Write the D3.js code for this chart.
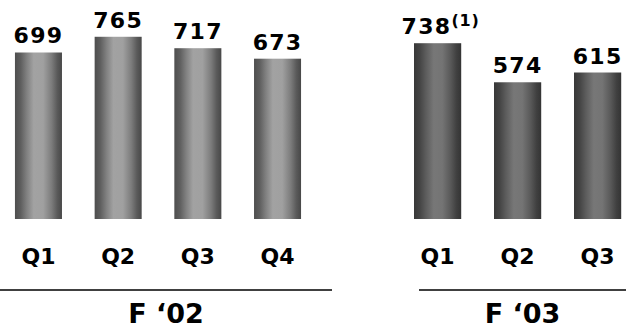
<!DOCTYPE html>
<html>
<head>
<meta charset="utf-8">
<script src="https://cdn.jsdelivr.net/npm/d3@7"></script>
<style>
  html, body { margin: 0; padding: 0; background: #fff; }
  svg { display: block; }
  text { font-family: "DejaVu Sans", Verdana, sans-serif; font-weight: bold; fill: #000; }
</style>
</head>
<body>
<svg id="chart" width="626" height="328"></svg>
<script>
// Quarterly values by fiscal year
const yearLabels = ["F \u201802", "F \u201803"];
const quartersF02 = ["Q1", "Q2", "Q3", "Q4"];
const valuesF02 = [699, 765, 717, 673];
const quartersF03 = ["Q1", "Q2", "Q3"];
const valuesF03 = [738, 574, 615];
const notesF03 = ["(1)", "", ""];

const svg = d3.select("#chart");
const baseY = 219;

// Shared value scale so both panels are comparable
const y = d3.scaleLinear().domain([0, 920]).range([baseY, baseY - 920 * 0.2382]);

const defs = svg.append("defs");
function cylinder(id, stops) {
  const g = defs.append("linearGradient").attr("id", id)
    .attr("x1", "0%").attr("x2", "100%").attr("y1", "0%").attr("y2", "0%");
  stops.forEach(([o, c]) => g.append("stop").attr("offset", o).attr("stop-color", c));
}
cylinder("gradF02", [[0, "#4e4e4e"], [0.12, "#5e5e5e"], [0.25, "#808080"], [0.4, "#a2a2a2"], [0.6, "#a0a0a0"], [0.78, "#7c7c7c"], [0.9, "#5a5a5a"], [1, "#484848"]]);
cylinder("gradF03", [[0, "#383838"], [0.12, "#444444"], [0.25, "#5c5c5c"], [0.42, "#777777"], [0.6, "#747474"], [0.78, "#585858"], [0.9, "#404040"], [1, "#343434"]]);

const panels = [
  { label: yearLabels[0], cats: quartersF02, vals: valuesF02, notes: ["", "", "", ""], rule: [0, 332], bands: [-24.9, 340.9], grad: "gradF02" },
  { label: yearLabels[1], cats: quartersF03, vals: valuesF03, notes: notesF03, rule: [419, 626], bands: [374, 661.2], grad: "gradF03" }
];

panels.forEach(p => {
  const x = d3.scaleBand().domain(p.cats).range(p.bands).paddingInner(0.41).paddingOuter(0.5);
  const g = svg.append("g");
  const data = p.cats.map((c, i) => ({ c, v: p.vals[i], note: p.notes[i] }));

  g.selectAll("rect").data(data).join("rect")
    .attr("x", d => x(d.c))
    .attr("width", x.bandwidth())
    .attr("y", d => y(d.v))
    .attr("height", d => y(0) - y(d.v))
    .attr("fill", `url(#${p.grad})`);

  // value labels
  const lbl = g.selectAll("text.val").data(data).join("text")
    .attr("class", "val")
    .attr("x", d => x(d.c) + x.bandwidth() / 2 + (d.note ? 3 : 0))
    .attr("y", d => y(d.v) - 9)
    .attr("text-anchor", "middle")
    .style("font-size", "22px")
    .style("letter-spacing", "1.3px");
  lbl.append("tspan").text(d => d.v);
  lbl.filter(d => d.note).append("tspan")
    .attr("dy", -8)
    .style("font-size", "16px")
    .style("letter-spacing", "0.8px")
    .text(d => d.note);

  // quarter labels
  g.selectAll("text.cat").data(data).join("text")
    .attr("class", "cat")
    .attr("x", d => x(d.c) + x.bandwidth() / 2)
    .attr("y", 264)
    .attr("text-anchor", "middle")
    .style("font-size", "22px")
    .text(d => d.c);

  // year rule and caption
  g.append("line")
    .attr("x1", p.rule[0]).attr("x2", p.rule[1])
    .attr("y1", 290).attr("y2", 290)
    .attr("stroke", "#000").attr("stroke-width", 1.3);
  g.append("text")
    .attr("x", (p.rule[0] + p.rule[1]) / 2)
    .attr("y", 323)
    .attr("text-anchor", "middle")
    .style("font-size", "27px")
    .text(p.label);
});
</script>
</body>
</html>
